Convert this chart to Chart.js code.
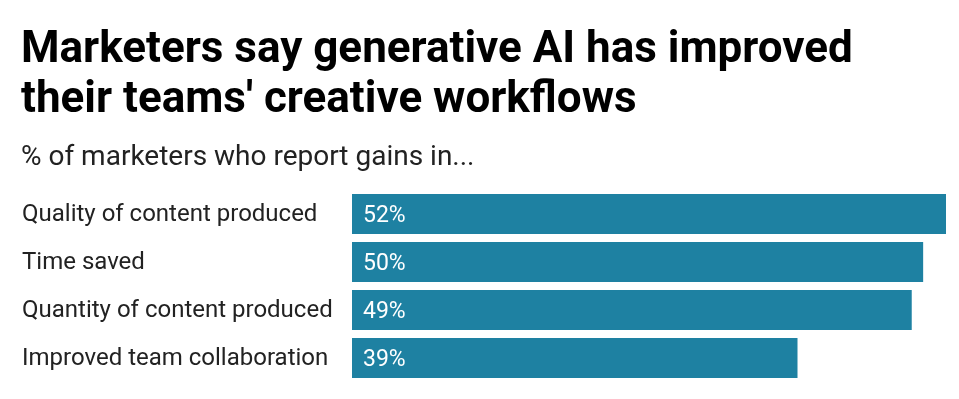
<!DOCTYPE html>
<html>
<head>
<meta charset="utf-8">
<script src="https://cdn.jsdelivr.net/npm/chart.js@4"></script>
<style>
    body { margin: 0; background: #fff; font-family: Roboto, sans-serif; }
    #wrap { position: relative; width: 959px; height: 399px; overflow: hidden; }
    #title { position: absolute; left: 21px; top: 22px; font-weight: 700; font-size: 44px; line-height: 50px; color: #000; white-space: nowrap; }
    #subtitle { position: absolute; left: 21px; top: 142px; font-size: 28px; line-height: 28px; color: #222; white-space: nowrap; }
    canvas { position: absolute; left: 0; top: 0; }
</style>
</head>
<body>
<div id="wrap">
    <canvas id="chart" width="959" height="399"></canvas>
    <div id="title">Marketers say generative AI has improved<br>their teams' creative workflows</div>
    <div id="subtitle">% of marketers who report gains in...</div>
</div>
<script>
// Data
const categories = [
    'Quality of content produced',
    'Time saved',
    'Quantity of content produced',
    'Improved team collaboration'
];
const shares = [52, 50, 49, 39];

const barColor = '#1e81a2';

// Draw the "52%" labels inside each bar
const insideLabels = {
    id: 'insideLabels',
    afterDatasetsDraw(chart) {
        const ctx = chart.ctx;
        const meta = chart.getDatasetMeta(0);
        ctx.save();
        ctx.fillStyle = '#fff';
        ctx.font = '23px Roboto';
        ctx.textAlign = 'left';
        ctx.textBaseline = 'middle';
        meta.data.forEach((bar, i) => {
            ctx.fillText(shares[i] + '%', bar.base + 11, bar.y + 2);
        });
        ctx.restore();
    }
};

const ctx = document.getElementById('chart').getContext('2d');
new Chart(ctx, {
    type: 'bar',
    data: {
        labels: categories,
        datasets: [{
            data: shares,
            backgroundColor: barColor,
            barPercentage: 1,
            categoryPercentage: 40 / 48
        }]
    },
    options: {
        indexAxis: 'y',
        responsive: false,
        animation: false,
        layout: {
            padding: { left: 22, top: 190, bottom: 17, right: 13 }
        },
        plugins: {
            legend: { display: false },
            tooltip: { enabled: false }
        },
        scales: {
            x: {
                display: false,
                min: 0,
                max: 52
            },
            y: {
                grid: { display: false },
                border: { display: false },
                ticks: {
                    crossAlign: 'far',
                    color: '#222',
                    padding: 0,
                    labelOffset: 1,
                    font: { family: 'Roboto', size: 24 }
                },
                afterFit(scale) {
                    scale.width = 330;
                }
            }
        }
    },
    plugins: [insideLabels]
});
</script>
</body>
</html>
